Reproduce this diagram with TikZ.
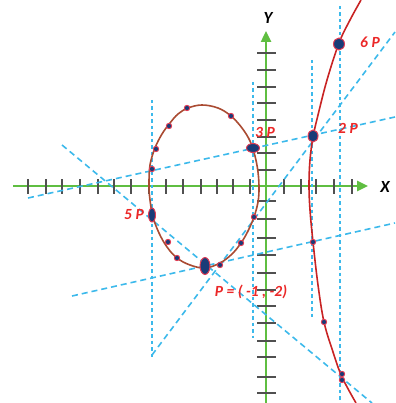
\documentclass[tikz,border=0pt]{standalone}
\usepackage{fontspec}
\setmainfont{Carlito}
\usetikzlibrary{arrows.meta}
\definecolor{axisgreen}{RGB}{95,190,65}
\definecolor{tickgray}{RGB}{80,80,80}
\definecolor{dashblue}{RGB}{60,185,235}
\definecolor{ovalbrown}{RGB}{170,75,50}
\definecolor{branchred}{RGB}{200,35,35}
\definecolor{dotnavy}{RGB}{25,60,120}
\definecolor{dotrim}{RGB}{225,60,85}
\definecolor{labelred}{RGB}{235,40,40}
\begin{document}
\begin{tikzpicture}[x=1pt,y=-1pt,
  axisline/.style={axisgreen,line width=2.4pt,-{Triangle[length=11pt,width=10pt]}},
  tickmark/.style={tickgray,line width=1.2pt},
  diagline/.style={dashblue,line width=1.6pt,dash pattern=on 6pt off 4pt},
  vertline/.style={dashblue,line width=1.3pt,dash pattern=on 3.5pt off 3pt},
  smalldot/.style={fill=dotnavy,draw=dotrim,line width=0.9pt},
  bigdot/.style={fill=dotnavy,draw=dotrim,line width=1pt},
  redlabel/.style={text=labelred,font=\fontsize{15.5}{15.5}\selectfont\bfseries\itshape,inner sep=0pt},
  axislabel/.style={text=black,font=\fontsize{17}{17}\selectfont\bfseries\itshape,inner sep=0pt}]
\useasboundingbox (0,0) rectangle (395,403);
% axes
\coordinate (xs) at (13,186); \coordinate (xe) at (368,186);
\coordinate (ys) at (266,403); \coordinate (ye) at (266,31);
\draw[axisline] (xs) -- (xe);
\draw[axisline] (ys) -- (ye);
\foreach \x in {28,46,62,80,98,114,131,149,166,183,201,217,233,250,284,301,316,334,352}
  \draw[tickmark] (\x,179) -- (\x,194);
\foreach \y in {53,70,87,103,120,137,153,170,201,219,238,255,273,290,306,323,341,357,377,393}
  \draw[tickmark] (257,\y) -- (276,\y);
\node[axislabel] (xl) at (385,187) {X};
\node[axislabel] (yl) at (268,18) {Y};
% vertical dashed lines
\coordinate (v1a) at (152,100); \coordinate (v1b) at (152,357);
\coordinate (v2a) at (253,82);  \coordinate (v2b) at (253,338);
\coordinate (v3a) at (312,60);  \coordinate (v3b) at (312,320);
\coordinate (v4a) at (340,6);   \coordinate (v4b) at (340,403);
\draw[vertline] (v1a) -- (v1b);
\draw[vertline] (v2a) -- (v2b);
\draw[vertline] (v3a) -- (v3b);
\draw[vertline] (v4a) -- (v4b);
% slanted dashed lines
\coordinate (l5a) at (28,198);  \coordinate (l5b) at (395,117);
\coordinate (l6a) at (62,145);  \coordinate (l6b) at (372,403);
\coordinate (l7a) at (72,296);  \coordinate (l7b) at (395,223);
\coordinate (l8a) at (152,355); \coordinate (l8b) at (395,32);
\draw[diagline] (l5a) -- (l5b);
\draw[diagline] (l6a) -- (l6b);
\draw[diagline] (l7a) -- (l7b);
\draw[diagline] (l8a) -- (l8b);
% oval
\draw[ovalbrown,line width=1.6pt] plot[smooth cycle,tension=0.6] coordinates {
 (149,185) (150,165) (155,148) (162,134) (170,123) (178,114) (188,108) (202,105)
 (218,108) (231,116) (242,128) (250,141) (255,156) (258,172) (259,188) (258,202)
 (254,217) (248,231) (241,243) (232,254) (220,263) (205,268) (190,265) (177,258)
 (167,247) (159,233) (153,217) (150,200)};
% right branch
\draw[branchred,line width=1.6pt] plot[smooth,tension=0.6] coordinates {
 (361,0) (350,20) (339,43) (327,80) (318,115) (313,137) (310,160) (309,185)
 (310,210) (313,242) (318,285) (324,322) (333,352) (342,377) (356,403)};
% small dots
\foreach \p in {(187,108),(231,116),(169,126),(156,149),(152,169),(168,242),(177,258),(220,265),(241,243),(254,217),(313,242),(324,322),(342,374),(342,380)}
  \fill[smalldot] \p circle (2.7pt);
% big dots
\draw[bigdot] (205,266) ellipse (5pt and 8.5pt);
\draw[bigdot] (253,148) ellipse (6.5pt and 4.5pt);
\draw[bigdot] (152,215) ellipse (3.5pt and 7pt);
\draw[bigdot] (313,136) ellipse (5pt and 6pt);
\draw[bigdot] (339,44) ellipse (5.5pt and 6pt);
% labels
\node[redlabel] (l6p) at (370,42) {6 P};
\node[redlabel] (l2p) at (348,128) {2 P};
\node[redlabel] (l3p) at (265,132) {3 P};
\node[redlabel] (l5p) at (134,215) {5 P};
\node[redlabel] (lp) at (251,292) {P = ( -1 , -2)};
\end{tikzpicture}
\end{document}
